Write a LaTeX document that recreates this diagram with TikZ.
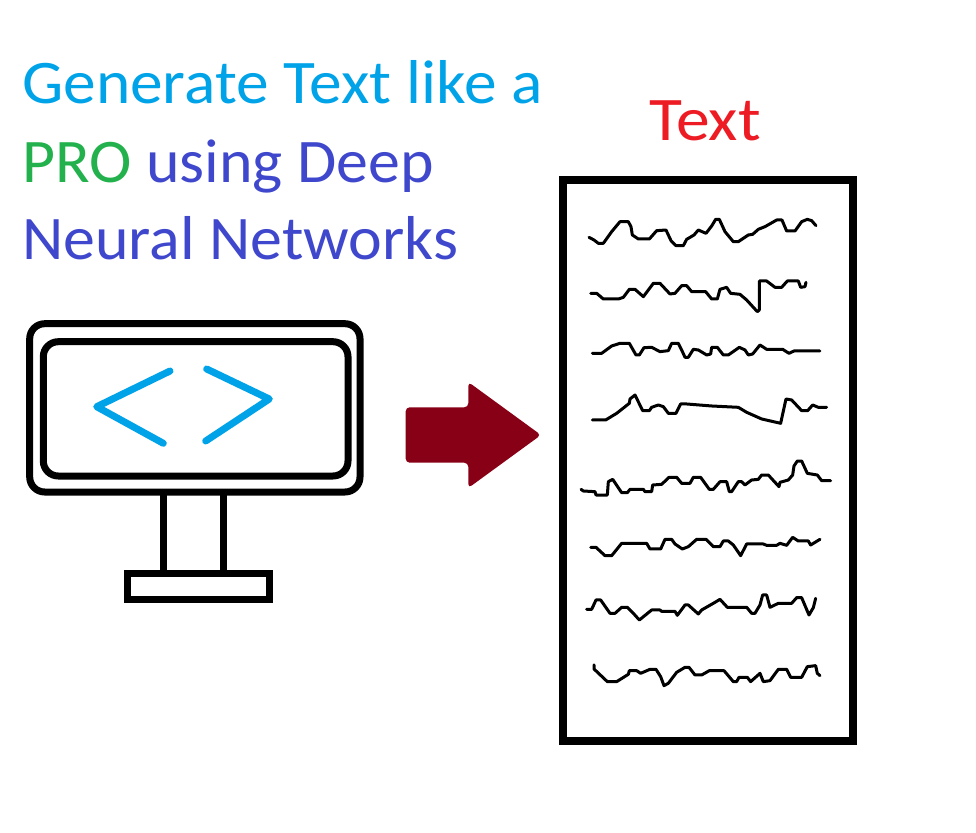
\documentclass[tikz,border=0pt]{standalone}
\usepackage{fontspec}
\newfontfamily\wideheadfont[FakeStretch=1.055]{Carlito}
\newfontfamily\headfont[FakeStretch=1.03]{Carlito}
\newfontfamily\labelfont[FakeStretch=1.09]{Carlito}
\definecolor{skyblue}{HTML}{00A2E8}
\definecolor{leafgreen}{HTML}{22B14C}
\definecolor{indigoblue}{HTML}{3F48CC}
\definecolor{brightred}{HTML}{ED1C24}
\definecolor{darkmaroon}{HTML}{880015}

\begin{document}
\begin{tikzpicture}[
    x=1pt, y=-1pt,
    heading/.style={anchor=base west, inner sep=0pt, font=\headfont\fontsize{62}{70}\selectfont},
    outline/.style={draw=black, line width=7pt, rounded corners=15pt},
    bracket/.style={draw=skyblue, line width=7pt, line cap=round, line join=round},
    squiggle/.style={draw=black, line width=3pt, line join=round, line cap=round}
]
\useasboundingbox (0,0) rectangle (976,832);

\node[heading, text=skyblue, font=\wideheadfont\fontsize{62}{70}\selectfont] (line1) at (22,104) {Generate Text like a};
\node[heading, text=leafgreen] (pro) at (22,182) {PRO};
\node[heading, text=indigoblue] (line2) at (146,182) {using Deep};
\node[heading, text=indigoblue] (line3) at (22,259.5) {Neural Networks};
\node[heading, text=brightred, font=\labelfont\fontsize{62}{70}\selectfont] (label) at (649,140) {Text};

\draw[outline] (29.7,323.7) rectangle (360,492);
\draw[outline] (43.3,341.7) rectangle (348,476);
\draw[line width=7pt] (163,492) -- (163,573);
\draw[line width=7pt] (223.3,492) -- (223.3,573);
\draw[line width=7pt] (127,573) rectangle (269,599);

\draw[bracket] (170,371) -- (96.7,406.7) -- (163.3,443.3);
\draw[bracket] (206.7,369) -- (269.3,399) -- (205.7,441);

\fill[darkmaroon, rounded corners=4pt] (405.7,407.3) -- (468.3,407.3) -- (468.3,382) -- (541,435)
    -- (468.3,488) -- (468.3,462.7) -- (405.7,462.7) -- cycle;

\draw[line width=8pt] (563,180) rectangle (853,741);

\begin{scope}[shift={(570,200)}, x=0.3333pt, y=-0.3333pt]
    \draw[squiggle] (57,112) -- (72,120) -- (85,130) -- (100,130) -- (125,95) -- (150,65) -- (175,65) -- (183,80) -- (187,105) -- (205,117) -- (238,117) -- (260,92) -- (288,90) -- (303,122) -- (318,137) -- (340,137) -- (350,118) -- (372,105) -- (385,90) -- (408,100) -- (425,78) -- (437,58) -- (448,58) -- (465,95) -- (490,125) -- (505,125) -- (535,105) -- (548,103) -- (565,88) -- (585,80) -- (620,60) -- (636,60) -- (650,93) -- (675,93) -- (695,65) -- (712,58) -- (725,62) -- (738,77);
    \draw[squiggle] (62,280) -- (80,280) -- (100,297) -- (145,297) -- (160,292) -- (178,268) -- (195,268) -- (220,290) -- (250,250) -- (270,250) -- (300,282) -- (315,280) -- (335,257) -- (350,257) -- (365,275) -- (407,275) -- (425,297) -- (442,297) -- (450,268) -- (470,262) -- (482,280) -- (510,283) -- (530,300) -- (562,335) -- (568,330) -- (568,243) -- (590,243) -- (615,262) -- (635,262) -- (652,243) -- (685,243) -- (692,262) -- (705,260) -- (708,247);
    \draw[squiggle] (67,460) -- (95,460) -- (125,438) -- (150,430) -- (178,430) -- (198,465) -- (208,465) -- (222,443) -- (245,442) -- (270,455) -- (295,452) -- (305,430) -- (325,430) -- (335,450) -- (345,472) -- (355,472) -- (370,448) -- (385,450) -- (410,465) -- (422,462) -- (425,442) -- (442,442) -- (460,465) -- (475,465) -- (508,442) -- (525,450) -- (535,465) -- (548,462) -- (570,435) -- (590,448) -- (638,448) -- (657,460) -- (672,453) -- (750,453);
    \draw[squiggle] (67,660) -- (107,660) -- (140,640) -- (178,610) -- (180,597) -- (195,585) -- (218,632) -- (238,632) -- (245,622) -- (265,615) -- (280,620) -- (295,640) -- (318,640) -- (332,612) -- (350,612) -- (425,618) -- (505,622) -- (530,637) -- (575,657) -- (632,670) -- (648,597) -- (665,600) -- (695,632) -- (713,632) -- (728,615) -- (745,622) -- (770,622);
\end{scope}

\begin{scope}[shift={(570,440)}, x=0.3333pt, y=-0.3333pt]
    \draw[squiggle] (33,148) -- (40,153) -- (75,155) -- (78,165) -- (112,165) -- (115,125) -- (128,118) -- (155,158) -- (172,158) -- (180,148) -- (220,148) -- (225,155) -- (245,155) -- (248,135) -- (275,133) -- (297,112) -- (320,112) -- (335,130) -- (360,130) -- (370,112) -- (392,112) -- (418,148) -- (430,148) -- (450,125) -- (470,125) -- (478,155) -- (485,155) -- (505,125) -- (515,125) -- (525,135) -- (545,120) -- (565,118) -- (575,105) -- (595,105) -- (627,140) -- (630,127) -- (655,120) -- (668,105) -- (672,78) -- (682,63) -- (695,63) -- (712,100) -- (742,105) -- (755,122) -- (782,122);
    \draw[squiggle] (62,322) -- (78,322) -- (105,347) -- (125,347) -- (155,310) -- (230,310) -- (240,327) -- (272,327) -- (285,298) -- (305,298) -- (315,312) -- (337,327) -- (355,320) -- (380,298) -- (408,298) -- (430,320) -- (450,320) -- (460,303) -- (475,303) -- (490,315) -- (512,347) -- (530,312) -- (580,312) -- (590,316) -- (620,316) -- (630,310) -- (650,316) -- (668,292) -- (685,303) -- (715,303) -- (722,315) -- (750,298);
    \draw[squiggle] (50,508) -- (65,508) -- (78,480) -- (92,480) -- (120,520) -- (135,520) -- (155,502) -- (172,502) -- (190,520) -- (208,540) -- (245,510) -- (270,510) -- (275,514) -- (315,514) -- (322,526) -- (345,495) -- (355,495) -- (385,522) -- (395,510) -- (430,490) -- (450,478) -- (472,502) -- (530,502) -- (545,520) -- (555,520) -- (570,495) -- (578,465) -- (590,465) -- (600,502) -- (625,490) -- (665,490) -- (680,473) -- (695,473) -- (717,525) -- (730,503) -- (737,475);
    \draw[squiggle] (72,675) -- (72,687) -- (112,725) -- (140,725) -- (175,703) -- (178,692) -- (200,692) -- (212,700) -- (240,688) -- (258,688) -- (272,710) -- (282,737) -- (295,730) -- (320,697) -- (345,682) -- (357,682) -- (375,705) -- (395,705) -- (418,692) -- (462,692) -- (490,725) -- (500,725) -- (507,712) -- (532,712) -- (542,725) -- (570,700) -- (580,725) -- (600,722) -- (625,688) -- (650,688) -- (662,712) -- (695,712) -- (712,680) -- (737,677) -- (742,700) -- (750,707);
\end{scope}

\end{tikzpicture}
\end{document}
